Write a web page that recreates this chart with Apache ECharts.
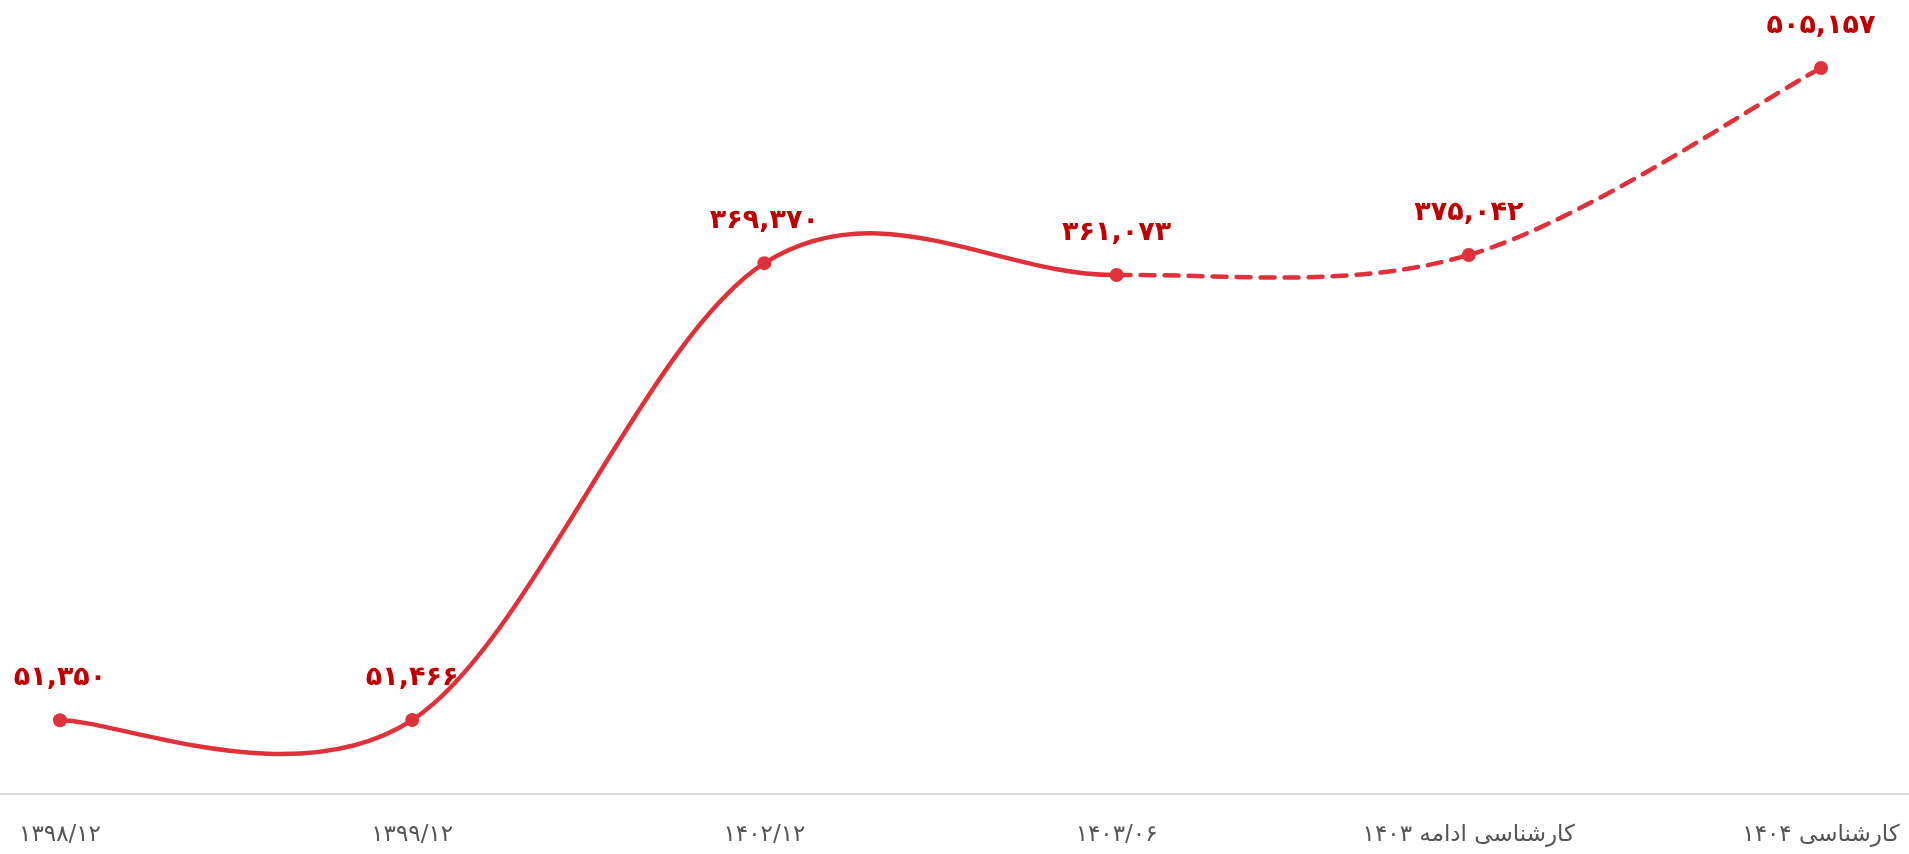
<!DOCTYPE html>
<html>
<head>
<meta charset="utf-8">
<script src="https://cdn.jsdelivr.net/npm/echarts@6/dist/echarts.min.js"></script>
<style>
  html, body { margin: 0; padding: 0; background: #fff; }
  #main { width: 1909px; height: 854px; }
</style>
</head>
<body>
<div id="main"></div>
<script>
var myChart = echarts.init(document.getElementById('main'));

var periods = ['۱۳۹۸/۱۲', '۱۳۹۹/۱۲', '۱۴۰۲/۱۲', '۱۴۰۳/۰۶', 'کارشناسی ادامه ۱۴۰۳', 'کارشناسی ۱۴۰۴'];
var values = [51350, 51466, 369370, 361073, 375042, 505157];
var firstProjected = 3; // from this point on the line is dashed (estimates)

var faDigits = '۰۱۲۳۴۵۶۷۸۹';
function toFa(n) {
    return String(n).replace(/\B(?=(\d{3})+(?!\d))/g, ',').replace(/\d/g, function (d) {
        return faDigits[+d];
    });
}

var lineColor = '#e0313a';

// catmull-rom style curve, one bezier segment per data point
function renderCurve(params, api) {
    var i = params.dataIndex;
    if (i >= values.length - 1) return;
    var pts = values.map(function (v, k) { return api.coord([k, v]); });
    var p0 = pts[Math.max(i - 1, 0)], p1 = pts[i], p2 = pts[i + 1], p3 = pts[Math.min(i + 2, pts.length - 1)];
    var t1 = [(p2[0] - p0[0]) / 2, (p2[1] - p0[1]) / 2];
    var t2 = [(p3[0] - p1[0]) / 2, (p3[1] - p1[1]) / 2];
    return {
        type: 'bezierCurve',
        shape: {
            x1: p1[0], y1: p1[1],
            cpx1: p1[0] + t1[0] / 3, cpy1: p1[1] + t1[1] / 3,
            cpx2: p2[0] - t2[0] / 3, cpy2: p2[1] - t2[1] / 3,
            x2: p2[0], y2: p2[1]
        },
        style: {
            stroke: lineColor,
            fill: null,
            lineWidth: 4.5,
            lineCap: 'round',
            lineDash: i >= firstProjected ? [14, 10] : null
        }
    };
}

var option = {
    animation: false,
    grid: [
        { left: 60, right: 88, top: 68, bottom: 60 },
        { left: 0, right: 0, top: 68, bottom: 60 }
    ],
    xAxis: [{
        type: 'category',
        data: periods,
        boundaryGap: false,
        axisTick: { show: false },
        axisLine: { show: false },
        axisLabel: { color: '#555', fontSize: 23, fontFamily: 'DejaVu Sans', margin: 30 }
    }, {
        type: 'category',
        gridIndex: 1,
        data: periods,
        axisTick: { show: false },
        axisLabel: { show: false },
        axisLine: { lineStyle: { color: '#dcdcdc', width: 2 } }
    }],
    yAxis: [{
        type: 'value',
        min: 0,
        max: 'dataMax',
        show: false
    }, {
        type: 'value',
        gridIndex: 1,
        show: false
    }],
    series: [{
        type: 'custom',
        data: values,
        renderItem: renderCurve,
        z: 2
    }, {
        type: 'scatter',
        data: values,
        symbol: 'circle',
        symbolSize: 14,
        itemStyle: { color: lineColor, opacity: 1 },
        z: 3,
        label: {
            show: true,
            position: 'top',
            distance: 22,
            color: '#c00000',
            fontSize: 27,
            fontWeight: 'bold',
            fontFamily: 'DejaVu Sans',
            formatter: function (p) { return toFa(p.value[1] !== undefined ? p.value[1] : p.value); }
        }
    }]
};
myChart.setOption(option);
</script>
</body>
</html>
